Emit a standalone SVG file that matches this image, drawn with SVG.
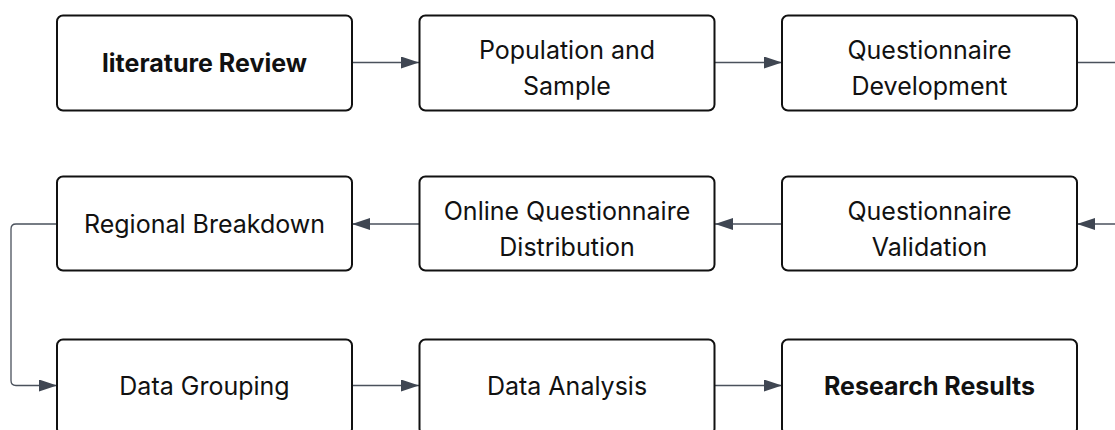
<svg xmlns="http://www.w3.org/2000/svg" width="1115" height="430" viewBox="0 0 1115 430">
<style>
.box{fill:#fff;stroke:#111;stroke-width:2}
.t{font-family:Inter,"Noto Sans",sans-serif;font-size:25px;fill:#111;text-anchor:middle}
.b{font-weight:700}
.c{fill:none;stroke:#4a515c;stroke-width:1.3}
</style>
<defs>
<marker id="ah" viewBox="0 0 18 12" refX="18" refY="6" markerWidth="18" markerHeight="12" markerUnits="userSpaceOnUse" orient="auto">
<path d="M0,0 L18,6 L0,12 Z" fill="#3f4652"/>
</marker>
</defs>
<rect width="1115" height="430" fill="#fff"/>
<g id="connectors">
<path class="c" d="M352,62.5 H419" marker-end="url(#ah)"/>
<path class="c" d="M715,62.5 H782" marker-end="url(#ah)"/>
<path class="c" d="M1077,62.5 H1115"/>
<path class="c" d="M1115,224 H1077" marker-end="url(#ah)"/>
<path class="c" d="M782,224 H715" marker-end="url(#ah)"/>
<path class="c" d="M420,224 H352" marker-end="url(#ah)"/>
<path class="c" d="M57,224 H16 Q11,224 11,229 V380.5 Q11,385.5 16,385.5 H57" marker-end="url(#ah)"/>
<path class="c" d="M352,385.5 H419" marker-end="url(#ah)"/>
<path class="c" d="M715,385.5 H782" marker-end="url(#ah)"/>
</g>
<g id="n1"><rect class="box" x="57" y="15.5" width="295" height="95" rx="6"/><text class="t b" x="204.5" y="71.5">literature Review</text></g>
<g id="n2"><rect class="box" x="419.5" y="15.5" width="295" height="95" rx="6"/><text class="t" x="567" y="59">Population and</text><text class="t" x="567" y="94.5">Sample</text></g>
<g id="n3"><rect class="box" x="782" y="15.5" width="295" height="95" rx="6"/><text class="t" x="929.5" y="59">Questionnaire</text><text class="t" x="929.5" y="94.5">Development</text></g>
<g id="n4"><rect class="box" x="782" y="176.5" width="295" height="94" rx="6"/><text class="t" x="929.5" y="220">Questionnaire</text><text class="t" x="929.5" y="255.5">Validation</text></g>
<g id="n5"><rect class="box" x="419.5" y="176.5" width="295" height="94" rx="6"/><text class="t" x="567" y="220">Online Questionnaire</text><text class="t" x="567" y="255.5">Distribution</text></g>
<g id="n6"><rect class="box" x="57" y="176.5" width="295" height="94" rx="6"/><text class="t" x="204.5" y="232.5">Regional Breakdown</text></g>
<g id="n7"><rect class="box" x="57" y="339.5" width="295" height="95" rx="6"/><text class="t" x="204.5" y="394.5">Data Grouping</text></g>
<g id="n8"><rect class="box" x="419.5" y="339.5" width="295" height="95" rx="6"/><text class="t" x="567" y="394.5">Data Analysis</text></g>
<g id="n9"><rect class="box" x="782" y="339.5" width="295" height="95" rx="6"/><text class="t b" x="929.5" y="394.5">Research Results</text></g>
</svg>
